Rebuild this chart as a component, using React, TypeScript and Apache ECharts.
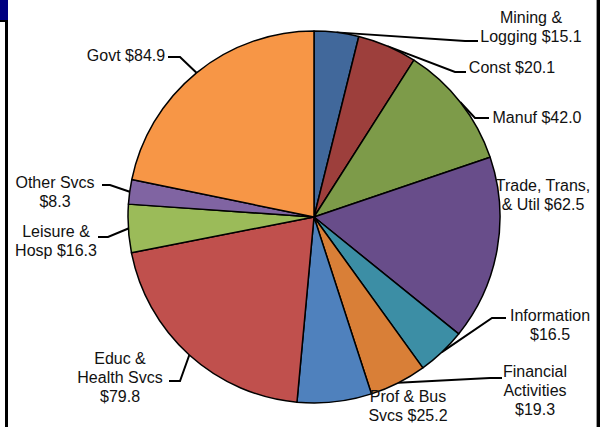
import React, { useEffect, useRef } from "react";
import * as echarts from "echarts";

const categories = [
  "Mining &\nLogging",
  "Const",
  "Manuf",
  "Trade, Trans,\n& Util",
  "Information",
  "Financial\nActivities",
  "Prof & Bus\nSvcs",
  "Educ &\nHealth Svcs",
  "Leisure &\nHosp",
  "Other Svcs",
  "Govt",
];
const values = [15.1, 20.1, 42.0, 62.5, 16.5, 19.3, 25.2, 79.8, 16.3, 8.3, 84.9];
const valueOnNewLine = [false, false, false, false, true, true, false, true, false, true, false];
const colors = [
  "#41689B", "#9D3F3C", "#7D9B49", "#684D8A", "#3C8EA5", "#D97F37",
  "#4F81BD", "#C0504D", "#9BBB59", "#8064A2", "#F79646",
];

// label layout (positions, not data)
const labelCenters: number[][] = [
  [531, 27], [512, 67], [537, 117], [543, 195], [550, 325], [535, 390],
  [408, 406], [120, 377], [56, 241], [55, 192], [126, 55],
];
const leaderBends: (number[][] | null)[] = [
  [[465, 41], [478, 41]],
  [[455, 72], [466, 72]],
  [[475, 118], [489, 118]],
  null,
  [[492, 318], [506, 318]],
  [[490, 378], [502, 378]],
  null,
  [[180, 381], [169, 381]],
  [[108, 237], [98, 237]],
  [[110, 185], [102, 185]],
  [[180, 57], [168, 57]],
];

export default function App() {
  const ref = useRef<HTMLDivElement>(null);
  useEffect(() => {
    document.body.style.margin = "0";
    const chart = echarts.init(ref.current!, null, { renderer: "svg" });
    const data = categories.map((name, i) => ({
      name,
      value: values[i],
      itemStyle: { color: colors[i] },
      labelLine: { show: leaderBends[i] !== null },
    }));
    chart.setOption({
      animation: false,
      backgroundColor: "#fff",
      graphic: [
        { type: "rect", shape: { x: 0, y: 0, width: 8, height: 20 }, style: { fill: "#000080" } },
        { type: "rect", shape: { x: 0, y: 20, width: 8, height: 2 }, style: { fill: "#000" } },
        { type: "rect", shape: { x: 5, y: 20, width: 3, height: 407 }, style: { fill: "#000" } },
        { type: "rect", shape: { x: 596, y: 0, width: 1, height: 427 }, style: { fill: "#999" } },
        { type: "rect", shape: { x: 597, y: 0, width: 3, height: 427 }, style: { fill: "#000" } },
      ],
      series: [
        {
          type: "pie",
          center: [314, 217],
          radius: 186,
          startAngle: 90,
          clockwise: true,
          avoidLabelOverlap: false,
          data,
          itemStyle: { borderColor: "#000", borderWidth: 1.5 },
          label: {
            show: true,
            position: "outside",
            color: "#111",
            fontFamily: "Liberation Sans, Arial, sans-serif",
            fontSize: 16,
            lineHeight: 19,
            align: "center",
            formatter: (p: any) =>
              p.name + (valueOnNewLine[p.dataIndex] ? "\n" : " ") + "$" + Number(p.value).toFixed(1),
          },
          labelLine: {
            show: true,
            length: 10,
            length2: 10,
            lineStyle: { color: "#000", width: 2 },
          },
          labelLayout: (params: any) => {
            const i = params.dataIndex;
            const c = labelCenters[i];
            const res: any = { x: c[0], y: c[1], align: "center", verticalAlign: "middle" };
            const bends = leaderBends[i];
            if (bends && params.labelLinePoints) {
              res.labelLinePoints = [params.labelLinePoints[0], bends[0], bends[1]];
            }
            return res;
          },
        },
      ],
    });
    return () => chart.dispose();
  }, []);
  return <div ref={ref} style={{ width: 610, height: 427 }} />;
}
